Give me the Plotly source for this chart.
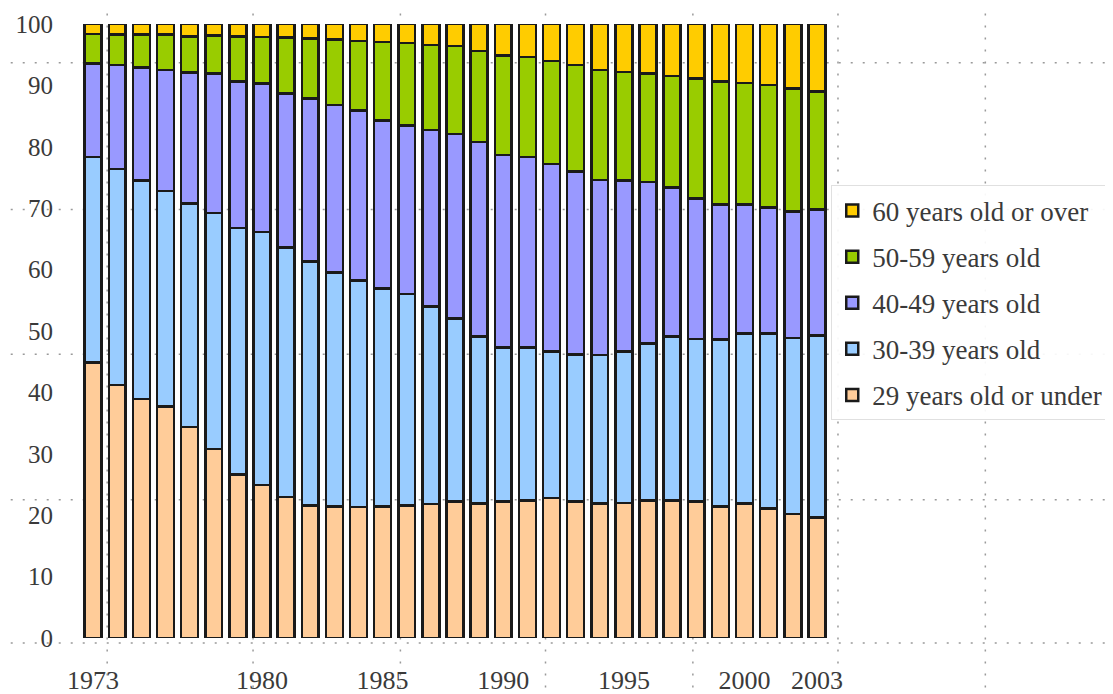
import plotly.graph_objects as go

years = list(range(1973, 2004))

under_29 = [44.9, 41.2, 38.9, 37.7, 34.4, 30.8, 26.6, 24.9, 23.0, 21.6,
            21.4, 21.3, 21.4, 21.6, 21.8, 22.2, 21.9, 22.2, 22.4, 22.8,
            22.2, 21.9, 22.0, 22.4, 22.4, 22.2, 21.4, 21.9, 21.1, 20.2, 19.6]
age_30_39 = [33.4, 35.2, 35.6, 35.1, 36.4, 38.4, 40.2, 41.2, 40.6, 39.7,
             38.1, 36.9, 35.5, 34.4, 32.2, 29.8, 27.2, 25.1, 24.9, 23.9,
             24.0, 24.2, 24.7, 25.6, 26.7, 26.5, 27.2, 27.7, 28.5, 28.7, 29.7]
age_40_49 = [15.3, 16.9, 18.4, 19.7, 21.3, 22.7, 23.8, 24.2, 25.1, 26.6,
             27.3, 27.7, 27.4, 27.5, 28.7, 30.1, 31.7, 31.4, 31.0, 30.5,
             29.8, 28.5, 27.8, 26.3, 24.3, 22.9, 22.0, 21.0, 20.5, 20.6, 20.5]
age_50_59 = [4.8, 5.0, 5.4, 5.8, 5.9, 6.2, 7.4, 7.6, 9.1, 9.7,
             10.7, 11.3, 12.8, 13.4, 13.9, 14.3, 14.8, 16.2, 16.3, 16.8,
             17.3, 17.9, 17.7, 17.6, 18.1, 19.5, 20.0, 19.8, 20.0, 20.0, 19.2]
over_60 = [1.6, 1.7, 1.7, 1.7, 2.0, 1.9, 2.0, 2.1, 2.2, 2.4,
           2.5, 2.8, 2.9, 3.1, 3.4, 3.6, 4.4, 5.1, 5.4, 6.0,
           6.7, 7.5, 7.8, 8.1, 8.5, 8.9, 9.4, 9.6, 9.9, 10.5, 11.0]

series_names = ["29 years old or under", "30-39 years old", "40-49 years old",
                "50-59 years old", "60 years old or over"]
series_values = [under_29, age_30_39, age_40_49, age_50_59, over_60]
series_colors = ["#FFCC99", "#99CCFF", "#9999FF", "#99CC00", "#FFCC00"]

y_ticks = [0, 10, 20, 30, 40, 50, 60, 70, 80, 90, 100]
x_ticks = [1973, 1980, 1985, 1990, 1995, 2000, 2003]

FONT = "Liberation Serif"

fig = go.Figure()
for k, (name, vals, col) in enumerate(zip(series_names, series_values, series_colors)):
    fig.add_trace(go.Bar(
        x=years, y=vals, name=name, legendgroup=name, legendrank=1000 - k,
        marker=dict(color=col, line=dict(color="#1a1a1a", width=2.5)),
    ))

# faint dotted background page grid (decoration seen in the source image)
dot = dict(color="#9a9a9a", width=1.5, dash="2px,10px")
for px in [0.035, 0.23, 0.427, 0.621, 0.818, 1.012, 1.209]:
    fig.add_shape(type="line", xref="paper", yref="paper", x0=px, x1=px,
                  y0=-0.1, y1=1.04, line=dot, layer="below")
for py in [0.937, 0.698, 0.462, 0.225, -0.008]:
    fig.add_shape(type="line", xref="paper", yref="paper", x0=-0.11, x1=1.38,
                  y0=py, y1=py, line=dot, layer="below")

fig.update_layout(
    width=1113, height=694,
    barmode="stack", bargap=0.3,
    paper_bgcolor="white", plot_bgcolor="white",
    margin=dict(l=73, r=292, t=16, b=64),
    font=dict(family=FONT, size=25, color="#3a3a3a"),
    showlegend=True,
    legend=dict(
        x=1.003, y=0.737, xanchor="left", yanchor="top",
        traceorder="grouped", tracegroupgap=8,
        font=dict(family=FONT, size=27, color="#3a3a3a"),
        bgcolor="rgba(255,255,255,0.92)", bordercolor="#e0e0e0", borderwidth=1,
        itemwidth=30,
    ),
    xaxis=dict(
        range=[1972.5, 2003.5], tickmode="array", tickvals=x_ticks,
        ticktext=[str(v) for v in x_ticks], showgrid=False, zeroline=False,
        showline=False, ticks="", ticklabelstandoff=24, automargin=False,
        ticklabeloverflow="allow",
        tickfont=dict(family=FONT, size=26, color="#3a3a3a"),
    ),
    yaxis=dict(
        range=[0, 100], tickmode="array", tickvals=y_ticks,
        showgrid=False, zeroline=False, showline=False, ticks="",
        ticklabelstandoff=27, automargin=False, ticklabeloverflow="allow",
        tickfont=dict(family=FONT, size=25, color="#3a3a3a"),
    ),
)

fig.write_html("out.html")
